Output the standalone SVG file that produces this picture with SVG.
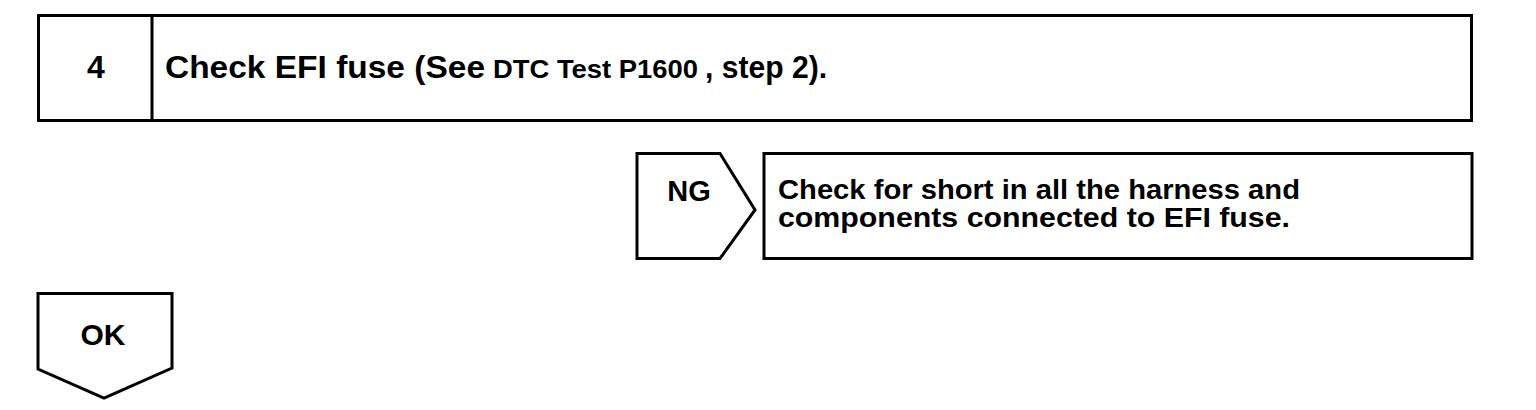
<svg xmlns="http://www.w3.org/2000/svg" width="1536" height="410" viewBox="0 0 1536 410">
<style>
.box{fill:#fff;stroke:#000;stroke-width:3;stroke-linejoin:miter}
.t{font-family:"Liberation Sans",Arial,sans-serif;font-weight:bold;fill:#000}
</style>
<rect width="1536" height="410" fill="#fff"/>
<g id="step4">
<rect class="box" x="38.5" y="15.5" width="1433" height="105"/>
<line x1="152" y1="15.5" x2="152" y2="120.5" stroke="#000" stroke-width="3"/>
<text class="t" x="96" y="78" font-size="32" text-anchor="middle">4</text>
<text class="t" y="78"><tspan x="165" font-size="32" textLength="320" lengthAdjust="spacingAndGlyphs">Check EFI fuse (See</tspan><tspan x="493" font-size="25" textLength="205" lengthAdjust="spacingAndGlyphs">DTC Test P1600</tspan><tspan x="705" font-size="32" textLength="122" lengthAdjust="spacingAndGlyphs">, step 2).</tspan></text>
</g>
<g id="ng">
<polygon class="box" points="637,153.5 720,153.5 755,210 720,258.5 637,258.5"/>
<text class="t" x="689" y="201" font-size="29" text-anchor="middle">NG</text>
</g>
<g id="ng-action">
<rect class="box" x="764" y="153.5" width="708" height="105"/>
<text class="t" font-size="27"><tspan x="778" y="199" textLength="522" lengthAdjust="spacingAndGlyphs">Check for short in all the harness and</tspan><tspan x="778" y="227" textLength="512" lengthAdjust="spacingAndGlyphs">components connected to EFI fuse.</tspan></text>
</g>
<g id="ok">
<polygon class="box" points="38,293.5 172,293.5 172,368 104,398 38,369"/>
<text class="t" x="103" y="345" font-size="30" text-anchor="middle">OK</text>
</g>
<g id="connectors"></g>
</svg>
